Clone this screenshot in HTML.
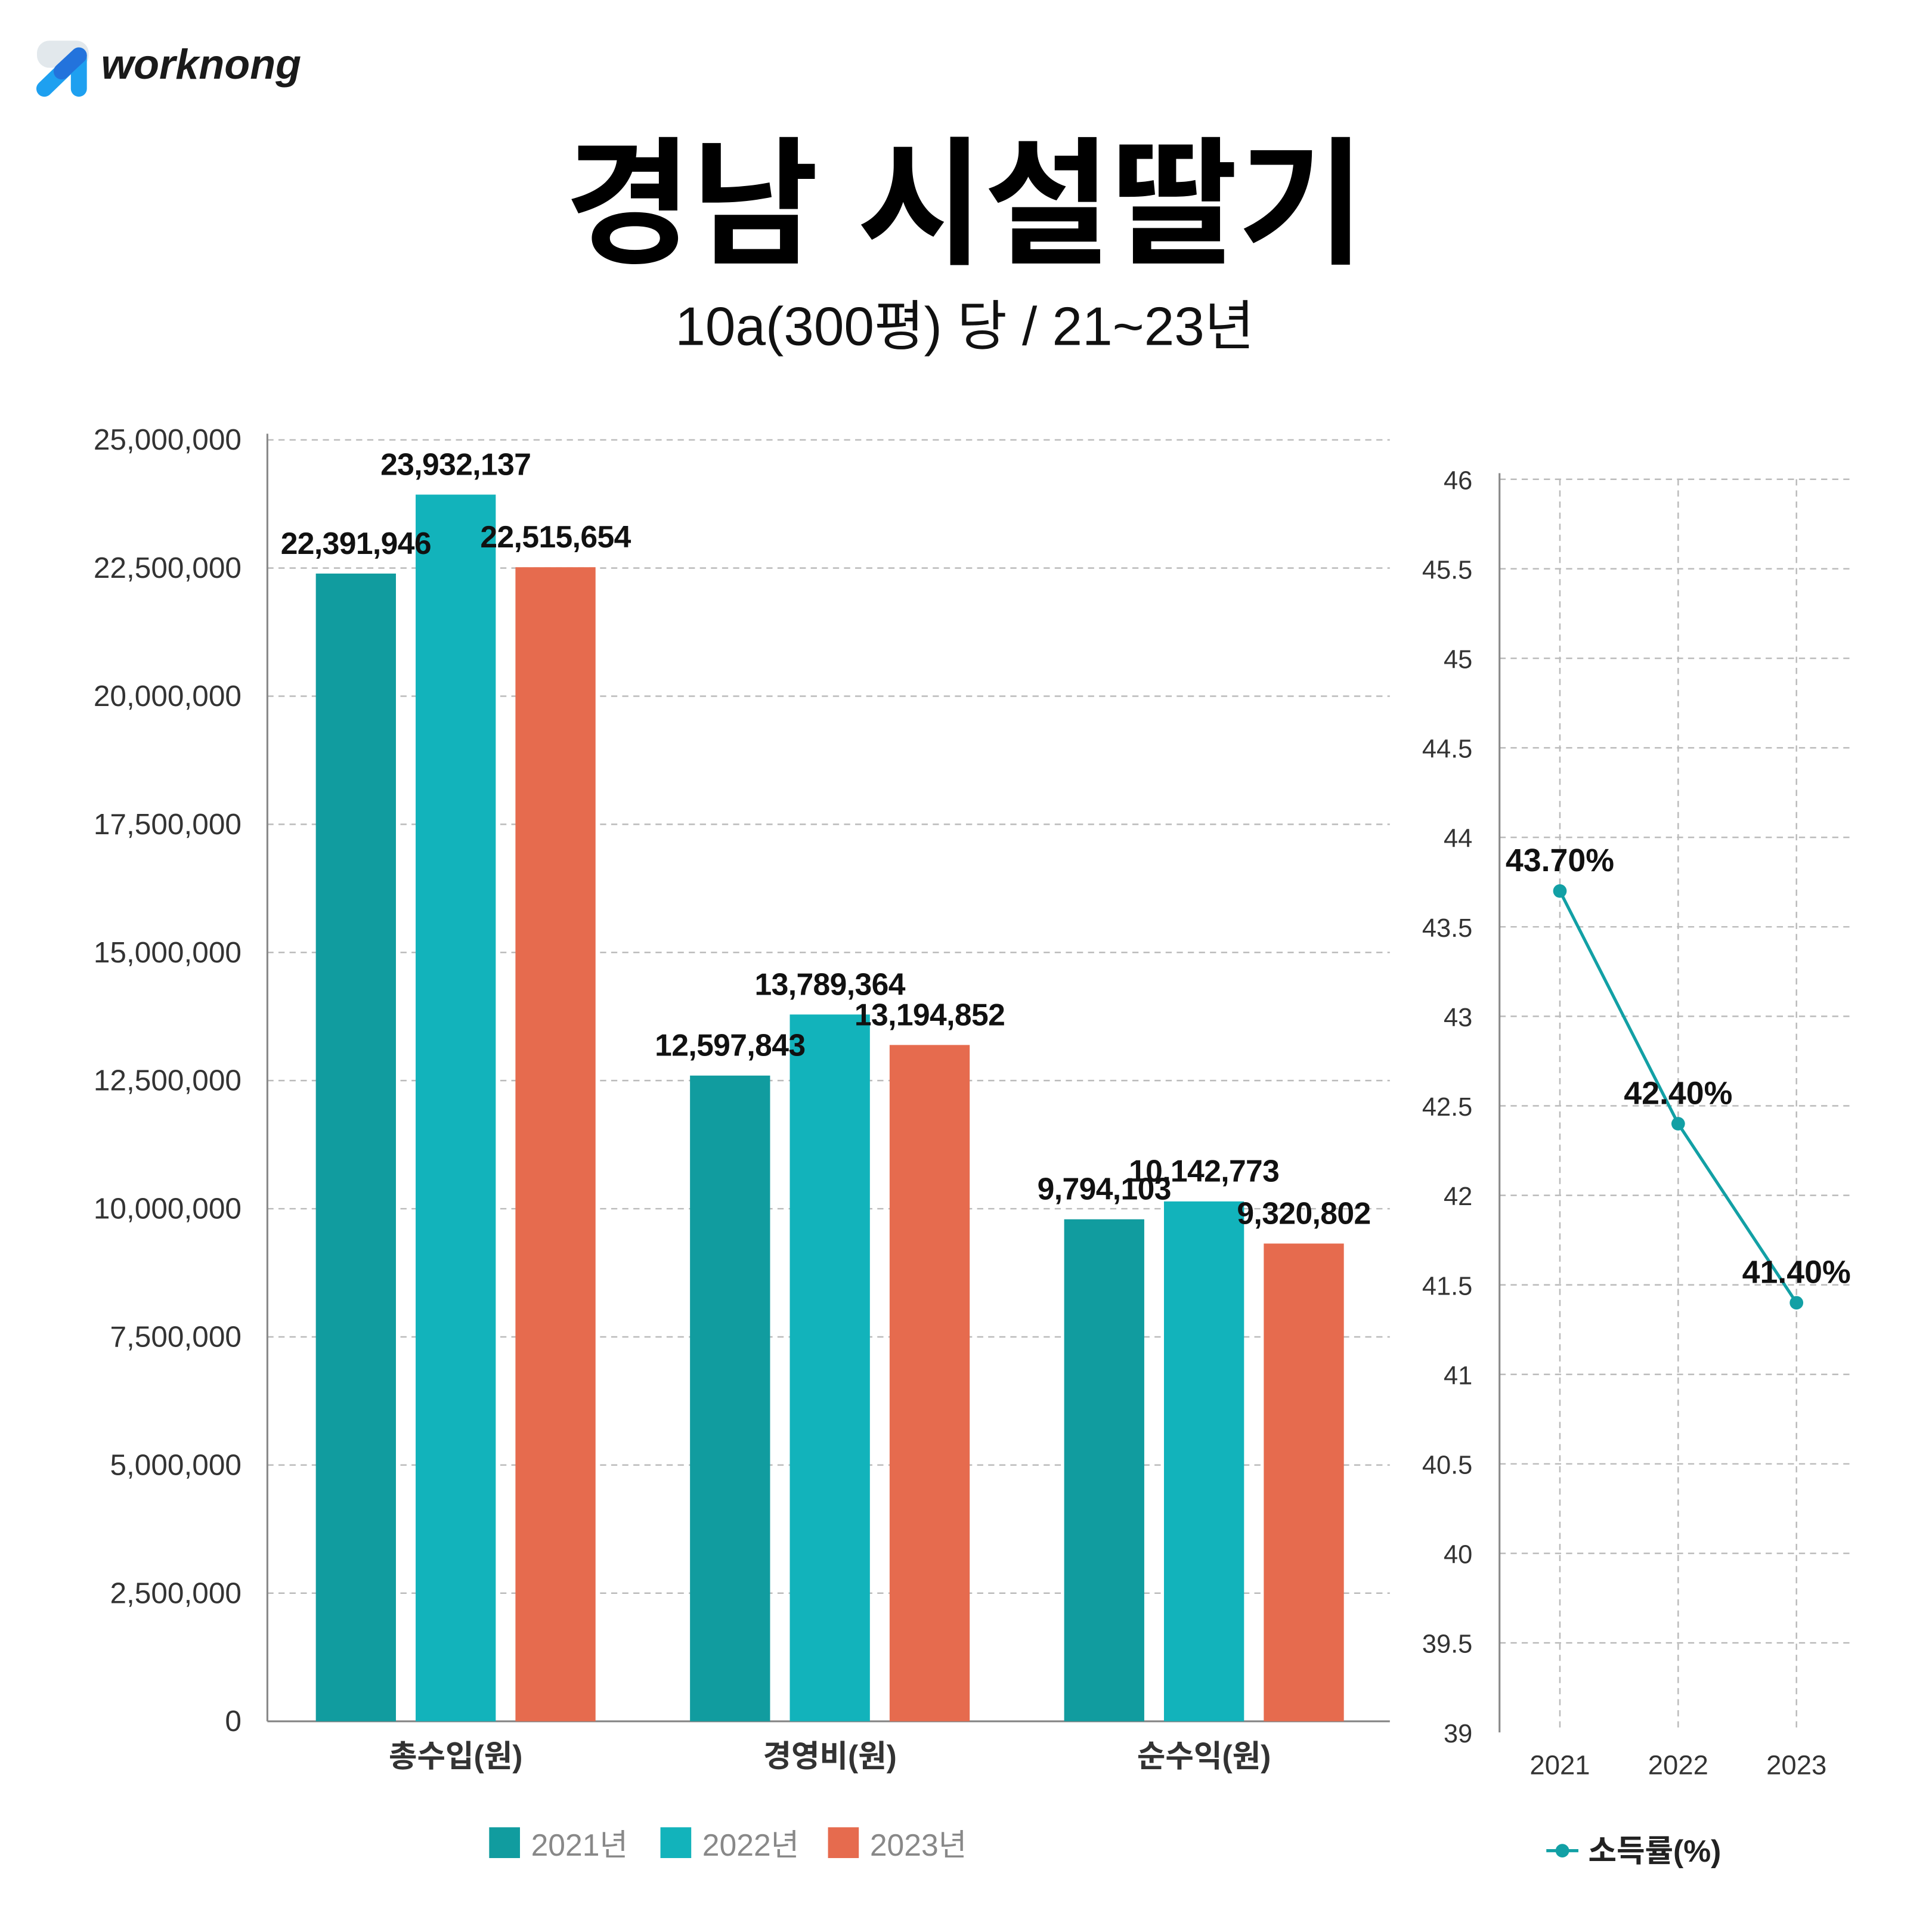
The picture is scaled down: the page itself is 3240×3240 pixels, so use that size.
<!DOCTYPE html>
<html><head><meta charset="utf-8"><style>
html,body{margin:0;padding:0;background:#fff}
svg{display:block}
text{font-family:"Liberation Sans","Noto Sans CJK KR",sans-serif}
</style></head><body>
<svg id="chart" width="3240" height="3240" viewBox="0 0 1568 1568" xmlns="http://www.w3.org/2000/svg">
<rect width="1568" height="1568" fill="#fff"/>
<g>
<rect x="30" y="33" width="42" height="22" rx="10" fill="#e2e8ec"/>
<path d="M36 72 L64 45 L64 72" stroke="#1ea0f0" stroke-width="13" stroke-linecap="round" stroke-linejoin="round" fill="none"/>
<path d="M50 58 L64 45" stroke="#2373dc" stroke-width="13" stroke-linecap="round" fill="none"/>
<text x="82" y="64" font-size="34" font-weight="bold" font-style="italic" fill="#1a1a1a">worknong</text>
</g>
<text x="783" y="205" font-size="112" font-weight="bold" text-anchor="middle" fill="#000">경남 시설딸기</text>
<text x="783" y="280" font-size="44" text-anchor="middle" fill="#111">10a(300평) 당 / 21~23년</text>
<g id="left"></g>
<g id="right"></g>
</svg>
<script>
const categories=['총수입(원)','경영비(원)','순수익(원)'];
const seriesNames=['2021년','2022년','2023년'];
const v2021=[22391946,12597843,9794103];
const v2022=[23932137,13789364,10142773];
const v2023=[22515654,13194852,9320802];
const yTicks=[0,2500000,5000000,7500000,10000000,12500000,15000000,17500000,20000000,22500000,25000000];
const years=['2021','2022','2023'];
const incomeRate=[43.7,42.4,41.4];
const rTicks=[39,39.5,40,40.5,41,41.5,42,42.5,43,43.5,44,44.5,45,45.5,46];

const NS='http://www.w3.org/2000/svg';
function mk(tag,attrs,parent,txt){const e=document.createElementNS(NS,tag);for(const k in attrs)e.setAttribute(k,attrs[k]);if(txt!==undefined)e.textContent=txt;parent.appendChild(e);return e;}
const fmt=n=>n.toLocaleString('en-US');
const L=document.getElementById('left'),R=document.getElementById('right');
const colors=['#119c9f','#12b3bb','#e66b4e'];
const x0=217,x1=1128,yTop=357,yBot=1397;
const yS=v=>yBot-(v/25000000)*(yBot-yTop);
yTicks.forEach(t=>{
 if(t>0){const g=mk('line',{x1:x0,x2:x1,y1:yS(t),y2:yS(t),stroke:'#bbb','stroke-dasharray':'5,4','stroke-width':1.2},L);
 }
 const tl=mk('text',{x:196,y:yS(t)+8,'font-size':24,'text-anchor':'end',fill:'#333'},L,fmt(t));
 
});
const ax=mk('line',{x1:x0,x2:x0,y1:yTop-5,y2:yBot,stroke:'#888','stroke-width':1.5},L);

const bx=mk('line',{x1:x0,x2:x1,y1:yBot,y2:yBot,stroke:'#888','stroke-width':1.5},L);

const groupW=(x1-x0)/categories.length;
const series=[v2021,v2022,v2023];
const labels=[];
categories.forEach((c,i)=>{
 const cx=x0+groupW*(i+0.5)+1;
 series.forEach((s,j)=>{
  const bc=cx+(j-1)*81, top=yS(s[i]);
  const b=mk('rect',{x:bc-32.5,y:top,width:65,height:yBot-top,fill:colors[j]},L);
  
  labels.push([bc,top,s[i]]);
 });
 const cl=mk('text',{x:cx,y:1434,'font-size':25,'font-weight':'bold','text-anchor':'middle',fill:'#333'},L,c);
 
});
labels.forEach(([bc,top,v])=>{
 const t=mk('text',{x:bc,y:top-16,'font-size':25,'font-weight':'bold','text-anchor':'middle',fill:'#111','letter-spacing':'-0.3'},L,fmt(v));
 
});
const legX=[397,536,672];
seriesNames.forEach((n,j)=>{
 const r=mk('rect',{x:legX[j],y:1483,width:25,height:25,fill:colors[j]},L);
 
 const t=mk('text',{x:legX[j]+34,y:1506,'font-size':25,fill:'#888'},L,n);
 
});
const rx0=1217,rx1=1505,ryT=389,ryB=1406;
const rS=v=>ryB-(v-39)/7*(ryB-ryT);
const xS=i=>1266+i*96;
rTicks.forEach(t=>{
 if(t>39){const g=mk('line',{x1:rx0,x2:rx1,y1:rS(t),y2:rS(t),stroke:'#bbb','stroke-dasharray':'5,4','stroke-width':1.2},R);
 }
 const tl=mk('text',{x:1195,y:rS(t)+8,'font-size':21,'text-anchor':'end',fill:'#333'},R,String(t));
 
});
years.forEach((y,i)=>{
 const g=mk('line',{x1:xS(i),x2:xS(i),y1:ryT,y2:ryB,stroke:'#bbb','stroke-dasharray':'5,4','stroke-width':1.2},R);
 
 const t=mk('text',{x:xS(i),y:1440,'font-size':22,'text-anchor':'middle',fill:'#333'},R,y);
 
});
const ra=mk('line',{x1:rx0,x2:rx0,y1:ryT-5,y2:ryB,stroke:'#888','stroke-width':1.5},R);

const pl=mk('polyline',{points:incomeRate.map((v,i)=>xS(i)+','+rS(v)).join(' '),fill:'none',stroke:'#12a0a5','stroke-width':2.5},R);

incomeRate.forEach((v,i)=>{
 const c=mk('circle',{cx:xS(i),cy:rS(v),r:5.5,fill:'#12a0a5'},R);
 
 const t=mk('text',{x:xS(i),y:rS(v)-16,'font-size':26,'font-weight':'bold','text-anchor':'middle',fill:'#111'},R,v.toFixed(2)+'%');
 
});
const ll=mk('line',{x1:1255,x2:1281,y1:1502,y2:1502,stroke:'#12a0a5','stroke-width':2.5},R);

const lc=mk('circle',{cx:1268,cy:1502,r:5.5,fill:'#12a0a5'},R);

const lt=mk('text',{x:1289,y:1511,'font-size':25,'font-weight':'bold',fill:'#222'},R,'소득률(%)');

</script>
</body></html>
